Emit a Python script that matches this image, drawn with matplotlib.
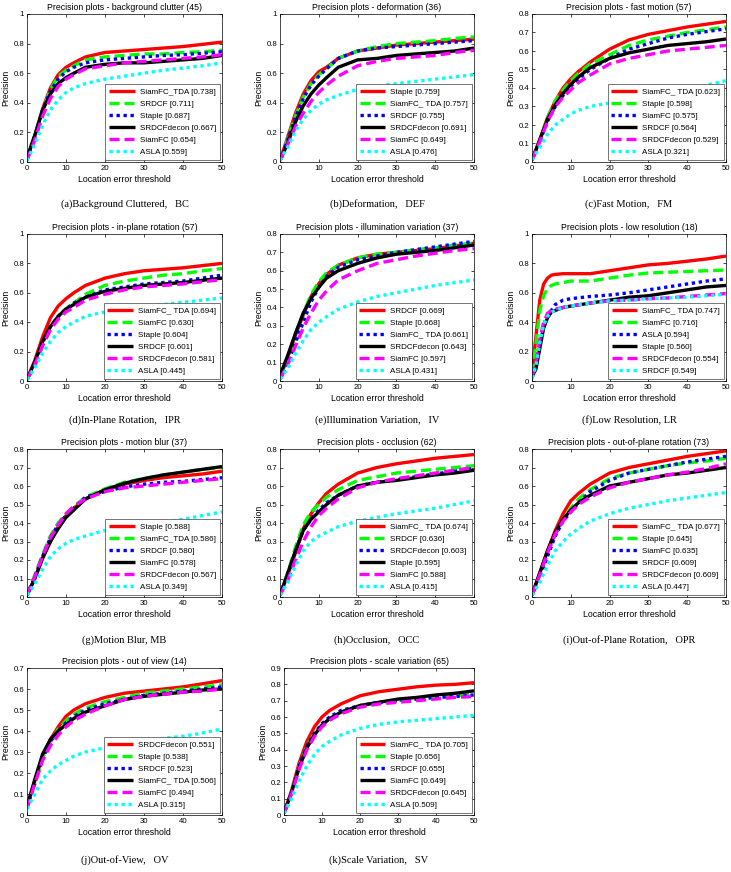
import matplotlib
matplotlib.use("Agg")
import matplotlib.pyplot as plt

# ---------------- data ----------------
X = [0, 2, 4, 6, 8, 10, 12, 15, 20, 25, 30, 35, 40, 45, 50]
X_LR = [0, 1, 2, 3, 4, 5, 6, 8, 10, 15, 20, 25, 30, 35, 40, 45, 50]

bc_labels = ["SiamFC_TDA [0.738]", "SRDCF [0.711]", "Staple [0.687]", "SRDCFdecon [0.667]", "SiamFC [0.654]", "ASLA [0.559]"]
bc_values = [
    [0.02, 0.18, 0.36, 0.50, 0.59, 0.64, 0.67, 0.71, 0.74, 0.75, 0.76, 0.77, 0.78, 0.795, 0.81],
    [0.02, 0.18, 0.35, 0.49, 0.58, 0.62, 0.65, 0.69, 0.71, 0.72, 0.73, 0.73, 0.74, 0.745, 0.755],
    [0.02, 0.17, 0.35, 0.48, 0.56, 0.61, 0.64, 0.67, 0.69, 0.70, 0.71, 0.72, 0.725, 0.735, 0.745],
    [0.03, 0.18, 0.35, 0.46, 0.53, 0.57, 0.60, 0.64, 0.66, 0.67, 0.67, 0.68, 0.69, 0.70, 0.72],
    [0.01, 0.15, 0.31, 0.43, 0.51, 0.56, 0.59, 0.63, 0.65, 0.67, 0.68, 0.69, 0.70, 0.71, 0.725],
    [0.01, 0.12, 0.25, 0.35, 0.42, 0.47, 0.50, 0.53, 0.56, 0.58, 0.60, 0.62, 0.635, 0.65, 0.67],
]

def_labels = ["Staple [0.759]", "SiamFC_ TDA [0.757]", "SRDCF [0.755]", "SRDCFdecon [0.691]", "SiamFC [0.649]", "ASLA [0.476]"]
def_values = [
    [0.01, 0.17, 0.33, 0.46, 0.55, 0.61, 0.64, 0.70, 0.75, 0.77, 0.79, 0.80, 0.81, 0.82, 0.83],
    [0.01, 0.16, 0.31, 0.44, 0.53, 0.59, 0.63, 0.70, 0.75, 0.78, 0.80, 0.81, 0.82, 0.835, 0.845],
    [0.01, 0.15, 0.30, 0.43, 0.52, 0.58, 0.63, 0.70, 0.75, 0.77, 0.78, 0.79, 0.80, 0.81, 0.82],
    [0.01, 0.13, 0.27, 0.38, 0.46, 0.52, 0.57, 0.64, 0.69, 0.70, 0.72, 0.73, 0.74, 0.75, 0.77],
    [0.01, 0.12, 0.24, 0.33, 0.41, 0.47, 0.52, 0.58, 0.65, 0.68, 0.70, 0.71, 0.72, 0.74, 0.755],
    [0.01, 0.10, 0.21, 0.29, 0.35, 0.39, 0.42, 0.45, 0.49, 0.51, 0.53, 0.545, 0.56, 0.575, 0.59],
]

fm_labels = ["SiamFC_ TDA [0.623]", "Staple [0.598]", "SiamFC [0.575]", "SRDCF [0.564]", "SRDCFdecon [0.529]", "ASLA [0.321]"]
fm_values = [
    [0.01, 0.12, 0.24, 0.33, 0.40, 0.45, 0.49, 0.54, 0.61, 0.66, 0.69, 0.71, 0.73, 0.745, 0.76],
    [0.01, 0.12, 0.24, 0.33, 0.39, 0.44, 0.48, 0.53, 0.58, 0.63, 0.66, 0.68, 0.70, 0.715, 0.73],
    [0.01, 0.11, 0.22, 0.30, 0.36, 0.41, 0.45, 0.50, 0.56, 0.61, 0.64, 0.67, 0.69, 0.705, 0.72],
    [0.01, 0.12, 0.23, 0.31, 0.37, 0.42, 0.46, 0.51, 0.56, 0.59, 0.61, 0.63, 0.64, 0.65, 0.665],
    [0.01, 0.11, 0.22, 0.30, 0.35, 0.39, 0.43, 0.47, 0.53, 0.56, 0.58, 0.60, 0.61, 0.62, 0.63],
    [0.01, 0.08, 0.15, 0.20, 0.23, 0.26, 0.28, 0.30, 0.32, 0.33, 0.345, 0.36, 0.39, 0.415, 0.44],
]

ipr_labels = ["SiamFC_ TDA [0.694]", "SiamFC [0.630]", "Staple [0.604]", "SRDCF [0.601]", "SRDCFdecon [0.581]", "ASLA [0.445]"]
ipr_values = [
    [0.01, 0.14, 0.30, 0.43, 0.51, 0.56, 0.60, 0.65, 0.70, 0.73, 0.75, 0.76, 0.77, 0.785, 0.80],
    [0.01, 0.10, 0.24, 0.35, 0.43, 0.49, 0.53, 0.59, 0.65, 0.68, 0.70, 0.72, 0.73, 0.75, 0.765],
    [0.01, 0.12, 0.26, 0.37, 0.44, 0.49, 0.53, 0.57, 0.62, 0.64, 0.66, 0.67, 0.68, 0.70, 0.72],
    [0.01, 0.13, 0.27, 0.37, 0.44, 0.49, 0.52, 0.57, 0.61, 0.63, 0.65, 0.66, 0.67, 0.685, 0.70],
    [0.01, 0.11, 0.24, 0.35, 0.42, 0.47, 0.50, 0.55, 0.59, 0.62, 0.64, 0.65, 0.66, 0.675, 0.69],
    [0.01, 0.09, 0.19, 0.27, 0.33, 0.37, 0.40, 0.44, 0.47, 0.49, 0.505, 0.52, 0.535, 0.55, 0.565],
]

iv_labels = ["SRDCF [0.669]", "Staple [0.668]", "SiamFC_ TDA [0.661]", "SRDCFdecon [0.643]", "SiamFC [0.597]", "ASLA [0.431]"]
iv_values = [
    [0.02, 0.13, 0.25, 0.36, 0.46, 0.53, 0.58, 0.63, 0.67, 0.69, 0.70, 0.71, 0.72, 0.735, 0.75],
    [0.02, 0.13, 0.26, 0.37, 0.47, 0.54, 0.59, 0.63, 0.67, 0.69, 0.70, 0.715, 0.725, 0.74, 0.75],
    [0.01, 0.10, 0.21, 0.32, 0.43, 0.51, 0.57, 0.62, 0.66, 0.68, 0.70, 0.715, 0.73, 0.745, 0.76],
    [0.03, 0.14, 0.26, 0.37, 0.45, 0.51, 0.56, 0.60, 0.64, 0.67, 0.69, 0.70, 0.71, 0.725, 0.74],
    [0.01, 0.09, 0.19, 0.29, 0.37, 0.44, 0.49, 0.55, 0.60, 0.64, 0.66, 0.68, 0.695, 0.71, 0.72],
    [0.01, 0.07, 0.15, 0.22, 0.28, 0.32, 0.35, 0.39, 0.43, 0.46, 0.48, 0.50, 0.52, 0.535, 0.55],
]

lr_labels = ["SiamFC_ TDA [0.747]", "SiamFC [0.716]", "ASLA [0.594]", "Staple [0.560]", "SRDCFdecon [0.554]", "SRDCF [0.549]"]
lr_values = [
    [0.05, 0.30, 0.55, 0.66, 0.70, 0.72, 0.725, 0.73, 0.73, 0.73, 0.75, 0.77, 0.79, 0.80, 0.815, 0.83, 0.85],
    [0.05, 0.25, 0.48, 0.58, 0.63, 0.65, 0.66, 0.67, 0.68, 0.68, 0.70, 0.72, 0.735, 0.74, 0.745, 0.75, 0.755],
    [0.02, 0.10, 0.25, 0.38, 0.45, 0.48, 0.52, 0.55, 0.56, 0.575, 0.585, 0.60, 0.62, 0.64, 0.66, 0.68, 0.695],
    [0.03, 0.08, 0.22, 0.36, 0.43, 0.47, 0.48, 0.50, 0.51, 0.53, 0.55, 0.57, 0.58, 0.60, 0.62, 0.64, 0.65],
    [0.03, 0.12, 0.28, 0.40, 0.46, 0.48, 0.49, 0.50, 0.51, 0.53, 0.545, 0.55, 0.56, 0.565, 0.575, 0.585, 0.595],
    [0.02, 0.10, 0.26, 0.38, 0.44, 0.47, 0.48, 0.50, 0.51, 0.53, 0.545, 0.55, 0.56, 0.565, 0.57, 0.58, 0.59],
]

mb_labels = ["Staple [0.588]", "SiamFC_TDA [0.586]", "SRDCF [0.580]", "SiamFC [0.578]", "SRDCFdecon [0.567]", "ASLA [0.349]"]
mb_values = [
    [0.01, 0.10, 0.21, 0.30, 0.38, 0.44, 0.48, 0.53, 0.58, 0.61, 0.63, 0.645, 0.655, 0.665, 0.68],
    [0.01, 0.12, 0.23, 0.33, 0.40, 0.45, 0.49, 0.54, 0.585, 0.62, 0.64, 0.66, 0.675, 0.69, 0.70],
    [0.01, 0.11, 0.22, 0.32, 0.39, 0.44, 0.48, 0.54, 0.57, 0.595, 0.61, 0.62, 0.625, 0.635, 0.645],
    [0.01, 0.10, 0.21, 0.30, 0.37, 0.43, 0.47, 0.53, 0.58, 0.615, 0.64, 0.66, 0.675, 0.69, 0.705],
    [0.01, 0.11, 0.22, 0.32, 0.39, 0.45, 0.49, 0.53, 0.57, 0.59, 0.60, 0.61, 0.62, 0.63, 0.64],
    [0.01, 0.07, 0.15, 0.22, 0.26, 0.29, 0.31, 0.33, 0.36, 0.38, 0.39, 0.405, 0.42, 0.44, 0.46],
]

occ_labels = ["SiamFC_ TDA [0.674]", "SRDCF [0.636]", "SRDCFdecon [0.603]", "Staple [0.595]", "SiamFC [0.588]", "ASLA [0.415]"]
occ_values = [
    [0.01, 0.12, 0.24, 0.37, 0.45, 0.51, 0.56, 0.61, 0.67, 0.70, 0.72, 0.735, 0.75, 0.76, 0.77],
    [0.01, 0.13, 0.27, 0.39, 0.46, 0.50, 0.54, 0.58, 0.63, 0.65, 0.67, 0.68, 0.69, 0.70, 0.71],
    [0.01, 0.12, 0.25, 0.36, 0.42, 0.47, 0.51, 0.55, 0.60, 0.62, 0.635, 0.65, 0.665, 0.68, 0.695],
    [0.01, 0.13, 0.25, 0.36, 0.42, 0.46, 0.50, 0.55, 0.60, 0.62, 0.63, 0.645, 0.66, 0.67, 0.685],
    [0.01, 0.09, 0.20, 0.30, 0.38, 0.44, 0.48, 0.53, 0.59, 0.62, 0.64, 0.655, 0.67, 0.685, 0.70],
    [0.01, 0.08, 0.17, 0.25, 0.30, 0.33, 0.35, 0.38, 0.41, 0.43, 0.45, 0.465, 0.48, 0.50, 0.52],
]

opr_labels = ["SiamFC_ TDA [0.677]", "Staple [0.645]", "SiamFC [0.635]", "SRDCF [0.609]", "SRDCFdecon [0.609]", "ASLA [0.447]"]
opr_values = [
    [0.01, 0.13, 0.25, 0.36, 0.45, 0.52, 0.56, 0.61, 0.67, 0.70, 0.72, 0.74, 0.76, 0.775, 0.79],
    [0.01, 0.12, 0.24, 0.34, 0.42, 0.48, 0.53, 0.58, 0.64, 0.67, 0.69, 0.71, 0.725, 0.735, 0.75],
    [0.01, 0.11, 0.22, 0.33, 0.41, 0.46, 0.51, 0.57, 0.63, 0.67, 0.69, 0.71, 0.73, 0.745, 0.76],
    [0.01, 0.13, 0.25, 0.35, 0.42, 0.47, 0.51, 0.55, 0.60, 0.62, 0.64, 0.66, 0.67, 0.685, 0.70],
    [0.01, 0.12, 0.24, 0.34, 0.41, 0.46, 0.50, 0.54, 0.59, 0.62, 0.64, 0.66, 0.675, 0.695, 0.72],
    [0.01, 0.08, 0.17, 0.25, 0.30, 0.34, 0.37, 0.41, 0.45, 0.48, 0.50, 0.52, 0.535, 0.55, 0.565],
]

ov_labels = ["SRDCFdecon [0.551]", "Staple [0.538]", "SRDCF [0.523]", "SiamFC_ TDA [0.506]", "SiamFC [0.494]", "ASLA [0.315]"]
ov_values = [
    [0.04, 0.16, 0.28, 0.36, 0.42, 0.47, 0.50, 0.53, 0.56, 0.58, 0.59, 0.60, 0.61, 0.625, 0.64],
    [0.04, 0.15, 0.27, 0.35, 0.41, 0.45, 0.48, 0.51, 0.54, 0.56, 0.58, 0.59, 0.60, 0.61, 0.62],
    [0.04, 0.15, 0.27, 0.35, 0.40, 0.44, 0.47, 0.50, 0.53, 0.55, 0.57, 0.58, 0.59, 0.60, 0.61],
    [0.04, 0.17, 0.29, 0.36, 0.40, 0.43, 0.46, 0.49, 0.52, 0.55, 0.565, 0.575, 0.585, 0.595, 0.60],
    [0.03, 0.15, 0.26, 0.33, 0.38, 0.42, 0.45, 0.48, 0.52, 0.55, 0.565, 0.575, 0.585, 0.59, 0.60],
    [0.03, 0.10, 0.17, 0.21, 0.24, 0.26, 0.28, 0.30, 0.32, 0.34, 0.35, 0.365, 0.375, 0.39, 0.41],
]

sv_labels = ["SiamFC_ TDA [0.705]", "Staple [0.656]", "SRDCF [0.655]", "SiamFC [0.649]", "SRDCFdecon [0.645]", "ASLA [0.509]"]
sv_values = [
    [0.01, 0.15, 0.32, 0.45, 0.54, 0.60, 0.64, 0.68, 0.73, 0.755, 0.77, 0.785, 0.795, 0.80, 0.81],
    [0.01, 0.14, 0.30, 0.42, 0.50, 0.55, 0.59, 0.63, 0.67, 0.69, 0.70, 0.71, 0.72, 0.73, 0.74],
    [0.01, 0.14, 0.30, 0.42, 0.50, 0.56, 0.60, 0.64, 0.67, 0.69, 0.70, 0.71, 0.72, 0.725, 0.735],
    [0.01, 0.14, 0.29, 0.41, 0.49, 0.55, 0.59, 0.63, 0.67, 0.69, 0.71, 0.72, 0.735, 0.745, 0.76],
    [0.01, 0.13, 0.28, 0.40, 0.48, 0.54, 0.58, 0.62, 0.66, 0.68, 0.69, 0.70, 0.71, 0.72, 0.725],
    [0.01, 0.10, 0.21, 0.30, 0.37, 0.42, 0.45, 0.49, 0.53, 0.555, 0.57, 0.58, 0.59, 0.60, 0.61],
]

titles = [
    "Precision plots - background clutter (45)",
    "Precision plots - deformation (36)",
    "Precision plots - fast motion (57)",
    "Precision plots - in-plane rotation (57)",
    "Precision plots - illumination variation (37)",
    "Precision plots - low resolution (18)",
    "Precision plots - motion blur (37)",
    "Precision plots - occlusion (62)",
    "Precision plots - out-of-plane rotation (73)",
    "Precision plots - out of view (14)",
    "Precision plots - scale variation (65)",
]
captions = [
    "(a)Background Cluttered,   BC",
    "(b)Deformation,   DEF",
    "(c)Fast Motion,   FM",
    "(d)In-Plane Rotation,   IPR",
    "(e)Illumination Variation,   IV",
    "(f)Low Resolution, LR",
    "(g)Motion Blur, MB",
    "(h)Occlusion,   OCC",
    "(i)Out-of-Plane Rotation,   OPR",
    "(j)Out-of-View,   OV",
    "(k)Scale Variation,   SV",
]
y_tops = [1.0, 1.0, 0.8, 1.0, 0.8, 1.0, 0.8, 0.8, 0.8, 0.7, 0.9]

# ---------------- layout ----------------
W, H = 731, 872
fig = plt.figure(figsize=(W / 100, H / 100), dpi=100)
fig.patch.set_facecolor("white")

col_lr = [(27, 222), (280, 474), (532, 726)]
row_tb = [(14, 162), (234, 381), (449, 597), (668, 815)]
cap_y = [204, 420, 640, 860]

styles = [
    dict(color=(1, 0, 0), linestyle="-"),
    dict(color=(0, 1, 0), linestyle=(0, (3.0, 1.5))),
    dict(color=(0, 0, 1), linestyle=(0, (1, 1.1))),
    dict(color=(0, 0, 0), linestyle="-"),
    dict(color=(1, 0, 1), linestyle=(0, (3.0, 1.5))),
    dict(color=(0, 1, 1), linestyle=(0, (1, 1.1))),
]

panels = [
    (X, bc_labels, bc_values), (X, def_labels, def_values), (X, fm_labels, fm_values),
    (X, ipr_labels, ipr_values), (X, iv_labels, iv_values), (X_LR, lr_labels, lr_values),
    (X, mb_labels, mb_values), (X, occ_labels, occ_values), (X, opr_labels, opr_values),
    (X, ov_labels, ov_values), (X, sv_labels, sv_values),
]

sans = ["Liberation Sans", "DejaVu Sans"]
serif = ["Liberation Serif", "DejaVu Serif"]

for i, (xs, labels, values) in enumerate(panels):
    r, c = divmod(i, 3)
    l, rr = col_lr[c]
    if i == 10:
        l = 284
    t, b = row_tb[r]
    ax = fig.add_axes([l / W, 1 - b / H, (rr - l) / W, (b - t) / H])
    for lab, vals, st in zip(labels, values, styles):
        ax.plot(xs, vals, label=lab, linewidth=2.4, solid_capstyle="butt",
                dash_capstyle="butt", **st)
    ax.set_xlim(0, 50)
    top = y_tops[i]
    ax.set_ylim(0, top)
    ax.set_xticks([0, 10, 20, 30, 40, 50])
    if top == 1.0:
        yt = [0, 0.2, 0.4, 0.6, 0.8, 1.0]
        ytl = ["0", "0.2", "0.4", "0.6", "0.8", "1"]
    else:
        n = int(round(top * 10))
        yt = [k / 10 for k in range(n + 1)]
        ytl = ["0"] + ["%.1f" % v for v in yt[1:]]
    ax.set_yticks(yt)
    ax.set_yticklabels(ytl)
    ax.tick_params(direction="in", length=2.5, width=0.5, labelsize=5.6, pad=2,
                   top=True, right=True)
    for lab in ax.get_xticklabels() + ax.get_yticklabels():
        lab.set_family(sans)
    for s in ax.spines.values():
        s.set_linewidth(0.5)
    ax.set_title(titles[i], fontsize=6.3, family=sans, pad=3)
    ax.set_xlabel("Location error threshold", fontsize=6.3, family=sans, labelpad=2)
    ax.set_ylabel("Precision", fontsize=6.3, family=sans, labelpad=2)
    leg = ax.legend(loc="lower right", handlelength=3.2, handletextpad=0.6,
                    labelspacing=0.55, borderaxespad=0.3, borderpad=0.45,
                    fancybox=False, framealpha=1, edgecolor="#404040",
                    prop={"family": sans, "size": 5.8})
    leg.get_frame().set_linewidth(0.5)
    fig.text((l + rr) / 2 / W, 1 - cap_y[r] / H, captions[i], ha="center", va="center",
             fontsize=7.5, family=serif)

fig.savefig("out.png", dpi=100, facecolor="white")
